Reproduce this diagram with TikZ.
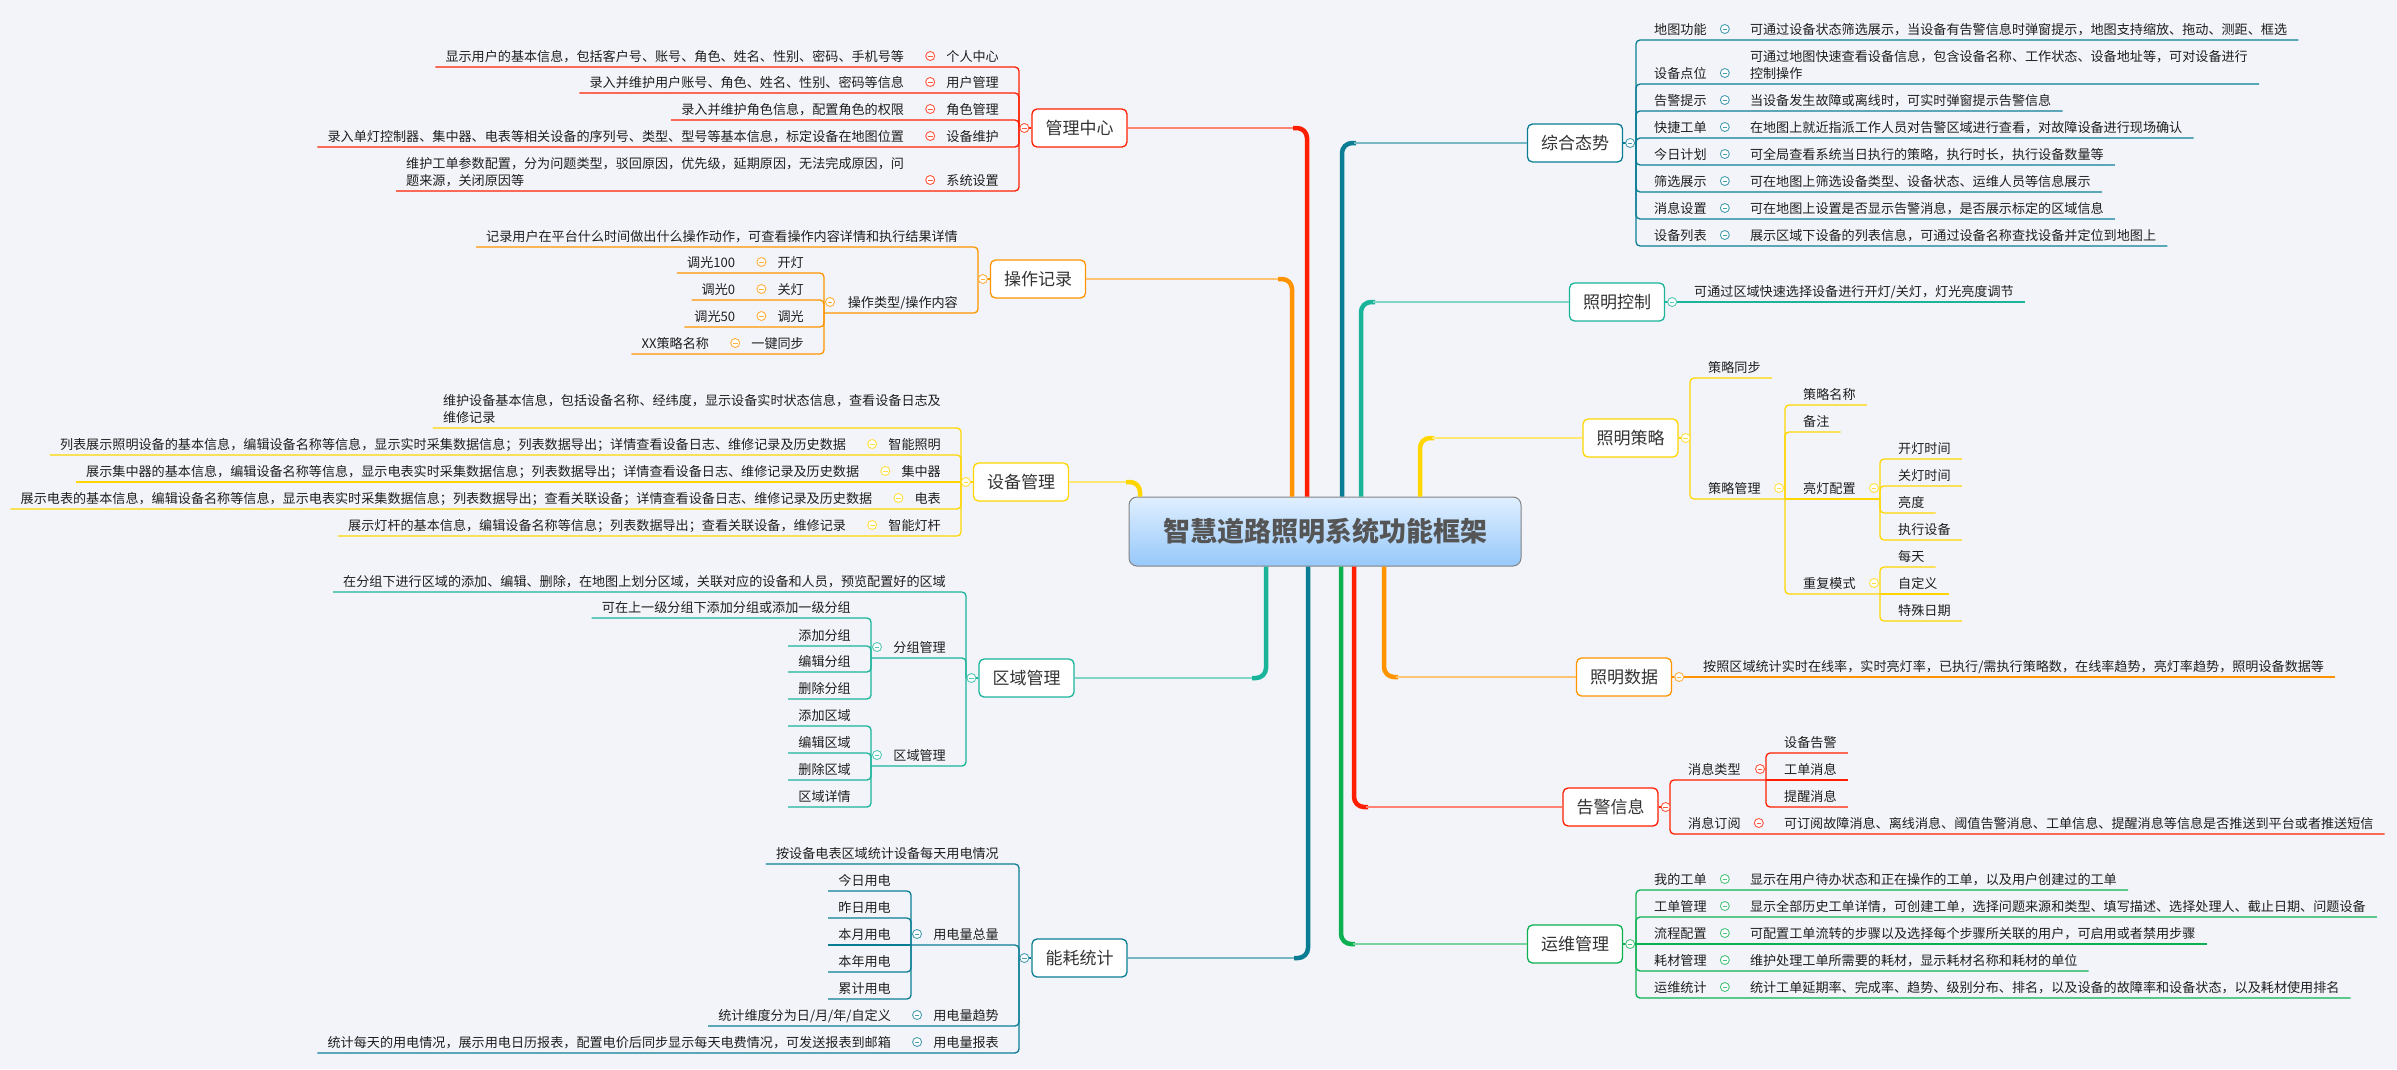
\documentclass[tikz,border=0pt]{standalone}
\usepackage{fontspec}
\setmainfont{Noto Sans CJK SC}
\definecolor{bg}{RGB}{243,244,249}
\definecolor{cRed}{RGB}{255,30,0}
\definecolor{cOrange}{RGB}{255,148,0}
\definecolor{cYellow}{RGB}{255,214,0}
\definecolor{cTeal}{RGB}{26,180,155}
\definecolor{cDTeal}{RGB}{10,125,148}
\definecolor{cGreen}{RGB}{12,176,80}
\definecolor{txtc}{RGB}{30,30,30}
\definecolor{topc}{RGB}{51,51,51}
\definecolor{ctrtop}{RGB}{224,239,255}
\definecolor{ctrbot}{RGB}{150,200,250}
\definecolor{ctrb}{RGB}{130,130,130}
\definecolor{ttlc}{RGB}{85,85,85}
\colorlet{cur}{cRed}
% path from bracket (bx,yp) to child underline
\newcommand\BrPath[4]{%
  \ifdim #2pt=#3pt\relax
    \draw[sub] (#1,#2) -- #4;
  \else
    \draw[sub,rounded corners=4pt] (#1,#2) -- (#1,#3) -- #4;
  \fi}
% left side
\newcommand\LLeaf[5]{%
  \node[txt,anchor=base east] (#1) at ({#2-20},{#4-6}) {#5};
  \BrPath{#2}{#3}{#4}{([xshift=-10pt,yshift=-6pt]#1.base west)}}
\newcommand\LLD[6]{%
  \node[txt,anchor=base east] (#1) at ({#2-20},{#4-6}) {#5};
  \node[txt,anchor=base east] (#1d) at ([xshift=-42pt]#1.base west) {#6};
  \BrPath{#2}{#3}{#4}{([xshift=-10pt,yshift=-6pt]#1d.base west)}
  \node[btn] at ([xshift=-16pt,yshift=5pt]#1.base west) {};}
\newcommand\LPar[6]{%
  \node[txt,anchor=base east] (#1) at ({#2-20},{#4-6}) {#5};
  \BrPath{#2}{#3}{#4}{(#6,#4)}
  \node[btn] at ({#6+6},{#4-11}) {};}
% right side
\newcommand\RLeaf[5]{%
  \node[txt,anchor=base west] (#1) at ({#2+18},{#4-6}) {#5};
  \BrPath{#2}{#3}{#4}{([xshift=11pt,yshift=-6pt]#1.base east)}}
\newcommand\RLD[6]{%
  \node[txt,anchor=base west] (#1) at ({#2+18},{#4-6}) {#5};
  \node[txt,anchor=base west] (#1d) at ([xshift=43pt]#1.base east) {#6};
  \BrPath{#2}{#3}{#4}{([xshift=11pt,yshift=-6pt]#1d.base east)}
  \node[btn] at ([xshift=18pt,yshift=5pt]#1.base east) {};}
\newcommand\RPar[6]{%
  \node[txt,anchor=base west] (#1) at ({#2+18},{#4-6}) {#5};
  \BrPath{#2}{#3}{#4}{(#6,#4)}
  \node[btn] at ({#6-6},{#4-11}) {};}
% trunks
\newcommand\TrunkL[4]{%
  \draw[light] (#1.east) -- ({#2-12},#3);
  \draw[strong,rounded corners=10pt] ({#2-14},#3) -- (#2,#3) -- (ctr.#4 -| #2,0);}
\newcommand\TrunkR[4]{%
  \draw[strong,rounded corners=10pt] (ctr.#4 -| #2,0) -- (#2,#3) -- ({#2+14},#3);
  \draw[light] ({#2+12},#3) -- (#1.west);}
\begin{document}
\begin{tikzpicture}[x=1pt,y=-1pt,
  txt/.style={font=\fontsize{13.1}{15}\selectfont, inner sep=0pt, text=txtc},
  topic/.style={draw=cur, fill=white, rounded corners=5pt, line width=1.3pt, minimum height=38pt, minimum width=95pt, inner xsep=12pt, font=\fontsize{17}{20}\selectfont, text=topc},
  btn/.style={circle, draw=cur!75!white, fill=white, line width=0.9pt, minimum size=9pt, inner sep=0pt,
    path picture={\draw[cur!75!white, line width=0.9pt] ([xshift=-2.3pt]path picture bounding box.center) -- ([xshift=2.3pt]path picture bounding box.center);}},
  sub/.style={draw=cur, line width=1.3pt},
  strong/.style={draw=cur, line width=4.5pt},
  light/.style={draw=cur!55!white, line width=2.5pt}]
\fill[bg] (0,0) rectangle (2397,1069);
\useasboundingbox (0,0) rectangle (2397,1069);

\node[rounded corners=8pt, draw=ctrb, line width=1pt, top color=ctrtop, bottom color=ctrbot,
  minimum width=392pt, minimum height=69pt, font=\fontsize{27}{30}\selectfont\bfseries, text=ttlc]
  (ctr) at (1325,531.5) {智慧道路照明系统功能框架};

% ===== 管理中心
\colorlet{cur}{cRed}
\node[topic] (tgl) at (1079.5,128) {管理中心};
\TrunkL{tgl}{1307}{128}{north}
\draw[sub] (tgl.west) -- (1019,128);
\LLD{g1}{1019}{128}{67}{个人中心}{显示用户的基本信息，包括客户号、账号、角色、姓名、性别、密码、手机号等}
\LLD{g2}{1019}{128}{93}{用户管理}{录入并维护用户账号、角色、姓名、性别、密码等信息}
\LLD{g3}{1019}{128}{120}{角色管理}{录入并维护角色信息，配置角色的权限}
\LLD{g4}{1019}{128}{147}{设备维护}{录入单灯控制器、集中器、电表等相关设备的序列号、类型、型号等基本信息，标定设备在地图位置}
\node[txt,anchor=base east] (g5) at (999,185) {系统设置};
\node[txt,anchor=base east] (g5e) at ([xshift=-42pt,yshift=17pt]g5.base west) {维护工单参数配置，分为问题类型，驳回原因，优先级，延期原因，无法完成原因，问};
\node[txt,anchor=base west] (g5d) at ([yshift=-17pt]g5e.base west) {题来源，关闭原因等};
\BrPath{1019}{128}{191}{([xshift=-10pt,yshift=-23pt]g5e.base west)}
\node[btn] at ([xshift=-16pt,yshift=5pt]g5.base west) {};
\node[btn] at ([xshift=-7pt]tgl.west) {};

% ===== 操作记录
\colorlet{cur}{cOrange}
\node[topic] (tol) at (1038,279) {操作记录};
\TrunkL{tol}{1292}{279}{north}
\draw[sub] (tol.west) -- (978,279);
\LLeaf{o1}{978}{279}{247}{记录用户在平台什么时间做出什么操作动作，可查看操作内容详情和执行结果详情}
\LPar{o2}{978}{279}{313}{操作类型/操作内容}{824}
\LLD{o21}{824}{313}{273}{开灯}{调光100}
\LLD{o22}{824}{313}{300}{关灯}{调光0}
\LLD{o23}{824}{313}{327}{调光}{调光50}
\LLD{o24}{824}{313}{354}{一键同步}{XX策略名称}
\node[btn] at ([xshift=-7pt]tol.west) {};

% ===== 设备管理
\colorlet{cur}{cYellow}
\node[topic] (tdl) at (1021,482) {设备管理};
\TrunkL{tdl}{1140}{482}{north}
\draw[sub] (tdl.west) -- (961,482);
\node[txt,anchor=base east] (d0e) at (941,405) {维护设备基本信息，包括设备名称、经纬度，显示设备实时状态信息，查看设备日志及};
\node[txt,anchor=base west] (d0d) at ([yshift=-17pt]d0e.base west) {维修记录};
\BrPath{961}{482}{428}{([xshift=-10pt,yshift=-23pt]d0e.base west)}
\LLD{d1}{961}{482}{455}{智能照明}{列表展示照明设备的基本信息，编辑设备名称等信息，显示实时采集数据信息；列表数据导出；详情查看设备日志、维修记录及历史数据}
\LLD{d2}{961}{482}{482}{集中器}{展示集中器的基本信息，编辑设备名称等信息，显示电表实时采集数据信息；列表数据导出；详情查看设备日志、维修记录及历史数据}
\LLD{d3}{961}{482}{509}{电表}{展示电表的基本信息，编辑设备名称等信息，显示电表实时采集数据信息；列表数据导出；查看关联设备；详情查看设备日志、维修记录及历史数据}
\LLD{d4}{961}{482}{536}{智能灯杆}{展示灯杆的基本信息，编辑设备名称等信息；列表数据导出；查看关联设备，维修记录}
\node[btn] at ([xshift=-7pt]tdl.west) {};

% ===== 区域管理
\colorlet{cur}{cTeal}
\node[topic] (tql) at (1026.5,678) {区域管理};
\TrunkL{tql}{1266}{678}{south}
\draw[sub] (tql.west) -- (966,678);
\LLeaf{q1}{966}{678}{592}{在分组下进行区域的添加、编辑、删除，在地图上划分区域，关联对应的设备和人员，预览配置好的区域}
\LPar{q2}{966}{678}{658}{分组管理}{871}
\LLeaf{qa1}{871}{658}{618}{可在上一级分组下添加分组或添加一级分组}
\LLeaf{qa2}{871}{658}{646}{添加分组}
\LLeaf{qa3}{871}{658}{672}{编辑分组}
\LLeaf{qa4}{871}{658}{699}{删除分组}
\LPar{q3}{966}{678}{766}{区域管理}{871}
\LLeaf{qb1}{871}{766}{726}{添加区域}
\LLeaf{qb2}{871}{766}{753}{编辑区域}
\LLeaf{qb3}{871}{766}{780}{删除区域}
\LLeaf{qb4}{871}{766}{807}{区域详情}
\node[btn] at ([xshift=-7pt]tql.west) {};

% ===== 能耗统计
\colorlet{cur}{cDTeal}
\node[topic] (tnl) at (1079.5,958) {能耗统计};
\TrunkL{tnl}{1308}{958}{south}
\draw[sub] (tnl.west) -- (1019,958);
\LLeaf{n1}{1019}{958}{864}{按设备电表区域统计设备每天用电情况}
\LPar{n2}{1019}{958}{945}{用电量总量}{911}
\LLeaf{na1}{911}{945}{891}{今日用电}
\LLeaf{na2}{911}{945}{918}{昨日用电}
\LLeaf{na3}{911}{945}{945}{本月用电}
\LLeaf{na4}{911}{945}{972}{本年用电}
\LLeaf{na5}{911}{945}{999}{累计用电}
\LLD{n3}{1019}{958}{1026}{用电量趋势}{统计维度分为日/月/年/自定义}
\LLD{n4}{1019}{958}{1053}{用电量报表}{统计每天的用电情况，展示用电日历报表，配置电价后同步显示每天电费情况，可发送报表到邮箱}
\node[btn] at ([xshift=-7pt]tnl.west) {};

% ===== 综合态势
\colorlet{cur}{cDTeal}
\node[topic] (tz) at (1575,143) {综合态势};
\TrunkR{tz}{1342}{143}{north}
\draw[sub] (tz.east) -- (1636,143);
\RLD{z1}{1636}{143}{40}{地图功能}{可通过设备状态筛选展示，当设备有告警信息时弹窗提示，地图支持缩放、拖动、测距、框选}
\node[txt,anchor=base west] (z2) at (1654,78) {设备点位};
\node[txt,anchor=base west] (z2d) at ([xshift=43pt]z2.base east) {控制操作};
\node[txt,anchor=base west] (z2e) at ([yshift=17pt]z2d.base west) {可通过地图快速查看设备信息，包含设备名称、工作状态、设备地址等，可对设备进行};
\BrPath{1636}{143}{84}{([xshift=11pt,yshift=-23pt]z2e.base east)}
\node[btn] at ([xshift=18pt,yshift=5pt]z2.base east) {};
\RLD{z3}{1636}{143}{111}{告警提示}{当设备发生故障或离线时，可实时弹窗提示告警信息}
\RLD{z4}{1636}{143}{138}{快捷工单}{在地图上就近指派工作人员对告警区域进行查看，对故障设备进行现场确认}
\RLD{z5}{1636}{143}{165}{今日计划}{可全局查看系统当日执行的策略，执行时长，执行设备数量等}
\RLD{z6}{1636}{143}{192}{筛选展示}{可在地图上筛选设备类型、设备状态、运维人员等信息展示}
\RLD{z7}{1636}{143}{219}{消息设置}{可在地图上设置是否显示告警消息，是否展示标定的区域信息}
\RLD{z8}{1636}{143}{246}{设备列表}{展示区域下设备的列表信息，可通过设备名称查找设备并定位到地图上}
\node[btn] at ([xshift=7pt]tz.east) {};

% ===== 照明控制
\colorlet{cur}{cTeal}
\node[topic] (tk) at (1617,302) {照明控制};
\TrunkR{tk}{1361}{302}{north}
\node[txt,anchor=base west] (k1) at (1694,296) {可通过区域快速选择设备进行开灯/关灯，灯光亮度调节};
\draw[sub] (tk.east) -- ([xshift=11pt,yshift=-6pt]k1.base east);
\node[btn] at ([xshift=7pt]tk.east) {};

% ===== 照明策略
\colorlet{cur}{cYellow}
\node[topic] (tc) at (1630.5,438) {照明策略};
\TrunkR{tc}{1420}{438}{north}
\draw[sub] (tc.east) -- (1690,438);
\RLeaf{c1}{1690}{438}{378}{策略同步}
\RPar{c2}{1690}{438}{499}{策略管理}{1785}
\RLeaf{c21}{1785}{499}{405}{策略名称}
\RLeaf{c22}{1785}{499}{432}{备注}
\RPar{c23}{1785}{499}{499}{亮灯配置}{1880}
\RLeaf{c231}{1880}{499}{459}{开灯时间}
\RLeaf{c232}{1880}{499}{486}{关灯时间}
\RLeaf{c233}{1880}{499}{513}{亮度}
\RLeaf{c234}{1880}{499}{540}{执行设备}
\RPar{c24}{1785}{499}{594}{重复模式}{1880}
\RLeaf{c241}{1880}{594}{567}{每天}
\RLeaf{c242}{1880}{594}{594}{自定义}
\RLeaf{c243}{1880}{594}{621}{特殊日期}
\node[btn] at ([xshift=7pt]tc.east) {};

% ===== 照明数据
\colorlet{cur}{cOrange}
\node[topic] (ts) at (1624,677) {照明数据};
\TrunkR{ts}{1384}{677}{south}
\node[txt,anchor=base west] (s1) at (1703,671) {按照区域统计实时在线率，实时亮灯率，已执行/需执行策略数，在线率趋势，亮灯率趋势，照明设备数据等};
\draw[sub] (ts.east) -- ([xshift=11pt,yshift=-6pt]s1.base east);
\node[btn] at ([xshift=7pt]ts.east) {};

% ===== 告警信息
\colorlet{cur}{cRed}
\node[topic] (ta) at (1610.5,807) {告警信息};
\TrunkR{ta}{1354}{807}{south}
\draw[sub] (ta.east) -- (1670,807);
\RPar{a1}{1670}{807}{780}{消息类型}{1766}
\RLeaf{a11}{1766}{780}{753}{设备告警}
\RLeaf{a12}{1766}{780}{780}{工单消息}
\RLeaf{a13}{1766}{780}{807}{提醒消息}
\RLD{a2}{1670}{807}{834}{消息订阅}{可订阅故障消息、离线消息、阈值告警消息、工单信息、提醒消息等信息是否推送到平台或者推送短信}
\node[btn] at ([xshift=7pt]ta.east) {};

% ===== 运维管理
\colorlet{cur}{cGreen}
\node[topic] (ty) at (1575,944) {运维管理};
\TrunkR{ty}{1341}{944}{south}
\draw[sub] (ty.east) -- (1636,944);
\RLD{y1}{1636}{944}{890}{我的工单}{显示在用户待办状态和正在操作的工单，以及用户创建过的工单}
\RLD{y2}{1636}{944}{917}{工单管理}{显示全部历史工单详情，可创建工单，选择问题来源和类型、填写描述、选择处理人、截止日期、问题设备}
\RLD{y3}{1636}{944}{944}{流程配置}{可配置工单流转的步骤以及选择每个步骤所关联的用户，可启用或者禁用步骤}
\RLD{y4}{1636}{944}{971}{耗材管理}{维护处理工单所需要的耗材，显示耗材名称和耗材的单位}
\RLD{y5}{1636}{944}{998}{运维统计}{统计工单延期率、完成率、趋势、级别分布、排名，以及设备的故障率和设备状态，以及耗材使用排名}
\node[btn] at ([xshift=7pt]ty.east) {};
\end{tikzpicture}
\end{document}
